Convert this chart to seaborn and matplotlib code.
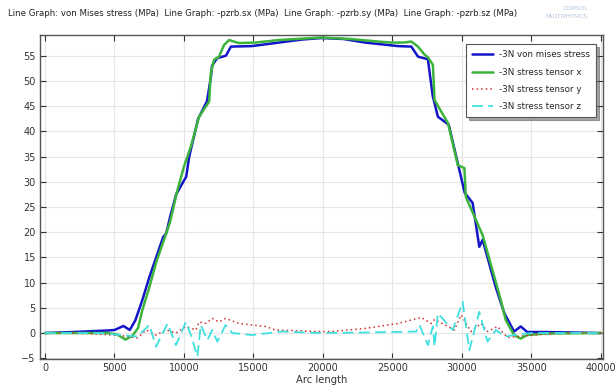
import matplotlib
matplotlib.use("Agg")
import matplotlib.pyplot as plt
import seaborn as sns
import pandas as pd

# ---- data ----
vm_x = [0, 2000, 4500, 5000, 5650, 6100, 6500, 7000, 7500, 8000, 8500, 8730, 9000, 9440, 10160, 10380,
        11020, 11300, 11660, 11950, 12020, 12380, 13020, 13380, 14880, 16820, 18500, 19900, 21500,
        23040, 25400, 26360, 26840, 27550, 27900, 28270, 29050, 29700, 30200, 30770, 31250, 31490,
        32420, 33040, 33750, 34230, 34700, 36000, 38000, 40000]
vm_y = [0, 0.2, 0.5, 0.6, 1.4, 0.6, 2.5, 6.5, 11, 15, 19.0, 19.8, 23, 27.5, 31, 35,
        42.5, 44, 46, 51, 53, 54.5, 55, 56.8, 56.9, 57.6, 58.2, 58.5, 58.3,
        57.6, 56.9, 56.8, 54.8, 54.3, 47, 42.9, 41.3, 33.7, 27.8, 25.8, 17.1, 18.5,
        9.2, 4.0, 0.3, 1.3, 0.2, 0.2, 0.1, 0]

sx_x = [0, 2000, 4500, 5200, 5800, 6300, 6700, 7000, 7500, 8000, 8500, 9000, 9500, 10000, 10500,
        11090, 11810, 11930, 12165, 12520, 12880, 13240, 13950, 15150, 16820, 19900, 22000,
        23970, 24900, 25800, 26360, 26840, 27310, 27550, 27910, 28030, 29000, 29700, 30180,
        30280, 31490, 32800, 33150, 33750, 34230, 34700, 36000, 40000]
sx_y = [0, 0, 0, -0.3, -1.3, -0.5, 1.0, 4.5, 9, 14, 18, 22, 28, 33, 37,
        42.9, 45.9, 51.5, 54.2, 54.8, 57.1, 58.1, 57.5, 57.6, 58.1, 58.6, 58.3,
        57.8, 57.6, 57.6, 57.8, 56.8, 55.2, 54.7, 53.2, 46.2, 41.6, 33.3, 32.7,
        27.0, 19.4, 6.5, 2.6, -0.4, -1.1, -0.4, -0.1, 0]

sy_x = [0, 3000, 5500, 6640, 7280, 7990, 8710, 9420, 10140, 10860, 11090, 11570, 12040, 12520,
        13000, 13950, 15860, 16580, 19680, 20620, 23020, 25400, 27070, 27790, 28030, 29460,
        29940, 30650, 31370, 31840, 32560, 33280, 34920, 37330, 40000]
sy_y = [0, -0.1, -0.5, -1.0, 0.6, -0.4, 0.6, 0.0, 1.3, 0.6, 2.2, 1.9, 2.9, 2.2,
        2.9, 1.9, 1.3, 0.6, 0.3, 0.3, 0.9, 1.9, 3.1, 1.9, 2.7, 0.6,
        3.6, 0.3, 1.9, 0.3, 1.3, -0.9, -0.4, 0.0, 0.0]

sz_x = [0, 3940, 5840, 6640, 7510, 7990, 8820, 9420, 10140, 10500, 10970, 11210, 11690, 12040,
        12400, 13000, 13480, 14910, 17050, 19680, 23020, 26710, 26950, 27550, 27910, 28030,
        28270, 29340, 30050, 30530, 31250, 31840, 32440, 33150, 33750, 35000, 40000]
sz_y = [0, 0, -0.5, -0.7, 1.6, -2.7, 1.9, -2.4, 2.2, -0.4, -4.7, 1.6, -1.4, 0.6,
        -1.7, 1.6, 0.0, -0.4, 0.3, 0.0, 0.1, 0.3, 1.6, -2.4, 1.3, -2.7,
        3.9, 0.6, 6.2, -3.4, 4.2, -1.7, 0.6, -0.7, -0.4, 0.0, 0.0]

labels = ["-3N von mises stress", "-3N stress tensor x", "-3N stress tensor y", "-3N stress tensor z"]
x_ticks = [0, 5000, 10000, 15000, 20000, 25000, 30000, 35000, 40000]
y_ticks = [-5, 0, 5, 10, 15, 20, 25, 30, 35, 40, 45, 50, 55]
title = ("Line Graph: von Mises stress (MPa)  Line Graph: -pzrb.sx (MPa)  "
         "Line Graph: -pzrb.sy (MPa)  Line Graph: -pzrb.sz (MPa)")

series = [(vm_x, vm_y), (sx_x, sx_y), (sy_x, sy_y), (sz_x, sz_y)]
df = pd.concat([pd.DataFrame({"Arc length": xs, "value": ys, "series": lab})
                for (xs, ys), lab in zip(series, labels)], ignore_index=True)

sns.set_theme(style="whitegrid")
plt.rcParams['font.family'] = ['DejaVu Sans']

fig = plt.figure(figsize=(6.16, 3.90), dpi=100)
ax = fig.add_axes([40/616, 1 - 359/390, 563/616, 324/390])

colors = ["#1414c8", "#3cb43c", "#d03030", "#40e0e0"]
styles = [dict(lw=1.8, ls="-"), dict(lw=1.8, ls="-"), dict(lw=1.1, ls=(0, (1, 2))), dict(lw=1.3, ls=(0, (6, 3)))]
for lab, c, st in zip(labels, colors, styles):
    sub = df[df["series"] == lab]
    sns.lineplot(data=sub, x="Arc length", y="value", ax=ax, color=c, label=lab,
                 sort=False, estimator=None, linewidth=st["lw"], linestyle=st["ls"])

ax.set_xlim(-358, 40150)
ax.set_ylim(-5.15, 59.1)
ax.set_xticks(x_ticks)
ax.set_yticks(y_ticks)
ax.set_xlabel("Arc length", fontsize=7.2, labelpad=1, color="#333333")
ax.set_ylabel("")
ax.tick_params(axis="both", labelsize=7.0, colors="#333333", direction="in", length=4,
               top=True, right=True, bottom=True, left=True, pad=3, width=0.8)
ax.grid(True, color="#e6e6e6", linewidth=0.8)
for s in ax.spines.values():
    s.set_color("#555555")
    s.set_linewidth(1.0)

leg = ax.legend(loc="upper right", fontsize=6.3, frameon=True, fancybox=False, shadow=True,
                borderpad=0.7, labelspacing=0.95, handlelength=2.4, handletextpad=0.6,
                bbox_to_anchor=(0.995, 0.985))
leg.get_frame().set_edgecolor("#555555")
leg.get_frame().set_linewidth(0.8)

fig.text(8/616, 1 - 13/390, title, fontsize=6.2, color="#222222", va="center", ha="left")
fig.text(588/616, 1 - 8/390, "COMSOL", fontsize=4.2, color="#b0c4d8", ha="right", va="center")
fig.text(588/616, 1 - 17/390, "MULTIPHYSICS", fontsize=4.2, color="#b0c4d8", ha="right", va="center")

fig.savefig("out.png", dpi=100)
